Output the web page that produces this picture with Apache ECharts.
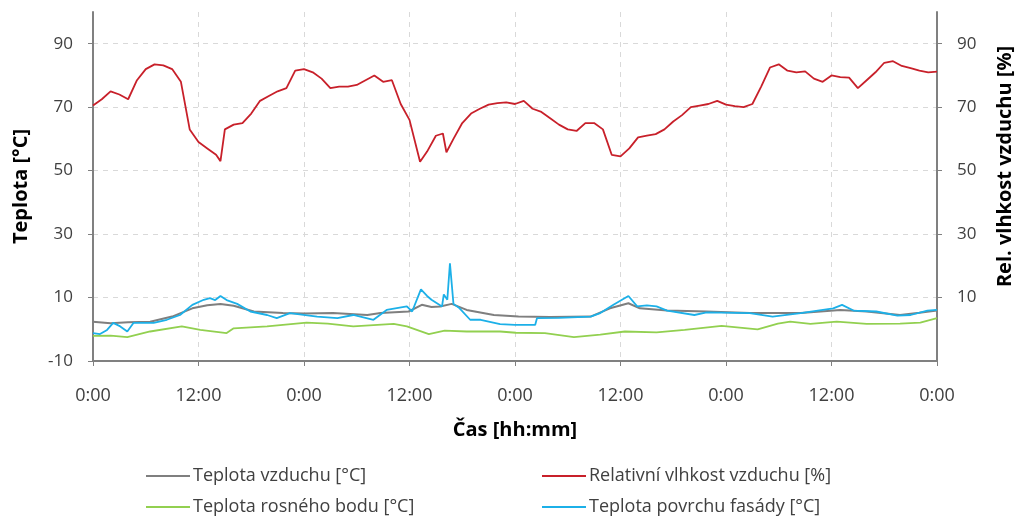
<!DOCTYPE html>
<html>
<head>
<meta charset="utf-8">
<script src="https://cdn.jsdelivr.net/npm/echarts@6/dist/echarts.min.js"></script>
<style>
  html, body { margin: 0; padding: 0; background: #fff; }
  #chart { width: 1032px; height: 517px; }
</style>
</head>
<body>
<div id="chart"></div>
<script>
// hodiny od zacatku mereni, hodnota
const airTemp = [
  [0, 2.4], [2, 1.9], [4, 2.2], [6.5, 2.4], [9, 4], [11.3, 6.6], [13, 7.6], [14.5, 8],
  [16, 7.4], [18.3, 5.6], [21.6, 5.1], [24, 5], [27.3, 5.1], [31.2, 4.5], [32.7, 5.1],
  [35.9, 5.6], [37.4, 7.7], [38.5, 7], [39.5, 7.2], [40.8, 8], [42.5, 6.1], [45.6, 4.5],
  [48.4, 4], [52, 3.9], [56.6, 4], [58.8, 6.6], [60.9, 8.2], [62.2, 6.6], [65.3, 5.9],
  [69.8, 5.6], [74.7, 5.1], [80.5, 5.1], [85, 6.1], [88, 5.6], [91.8, 4.5], [94, 5.2], [96, 5.9]
]

const relHumidity = [
  [0, 70.5], [1, 72.5], [2, 75], [3, 74], [4, 72.5], [5, 78.5], [6, 82], [7, 83.5], [8, 83.2],
  [9, 82], [10, 78], [11, 63], [12, 59], [13, 57], [14, 55], [14.5, 53], [15, 63], [16, 64.5],
  [17, 65], [18, 68], [19, 72], [20, 73.5], [21, 75], [22, 76], [23, 81.5], [24, 82], [25, 81],
  [26, 79], [27, 76], [28, 76.5], [29, 76.5], [30, 77], [31, 78.5], [32, 80], [33, 78], [34, 78.5],
  [35, 71], [36, 66], [37, 55], [37.2, 52.8], [38, 56], [39, 61], [39.8, 61.7], [40.2, 55.8],
  [41, 60], [42, 65], [43, 68], [44, 69.5], [45, 70.8], [46, 71.3], [47, 71.5], [48, 71], [49, 72],
  [50, 69.5], [51, 68.5], [52, 66.5], [53, 64.5], [54, 63], [55, 62.5], [56, 65], [57, 65], [58, 63],
  [59, 55], [60, 54.5], [61, 57], [62, 60.5], [63, 61], [64, 61.5], [65, 63], [66, 65.5], [67, 67.5],
  [68, 70], [69, 70.5], [70, 71], [71, 72], [72, 70.8], [73, 70.3], [74, 70], [75, 71], [76, 76.5],
  [77, 82.5], [78, 83.5], [79, 81.5], [80, 81], [81, 81.3], [82, 79], [83, 78], [84, 80], [85, 79.5],
  [86, 79.3], [87, 76], [88, 78.5], [89, 81], [90, 84], [91, 84.5], [92, 83], [93, 82.3], [94, 81.5],
  [95, 81], [96, 81.2]
]

const dewPoint = [
  [0, -2.1], [2, -2], [3.9, -2.5], [6.5, -0.7], [10.1, 0.9], [12.2, -0.2], [15.2, -1.2], [16, 0.3],
  [19.8, 0.9], [24.3, 2.1], [26.7, 1.8], [29.6, 0.9], [34.2, 1.7], [35.7, 0.9], [38.2, -1.5],
  [40, -0.4], [42.5, -0.7], [46.3, -0.7], [48.1, -1.1], [51.4, -1.2], [54.7, -2.5], [57.7, -1.7],
  [60.5, -0.7], [64.1, -1], [67.3, -0.2], [71.5, 1.1], [75.6, 0], [77.9, 1.8], [79.3, 2.4],
  [81.6, 1.7], [84.6, 2.4], [88, 1.7], [91.8, 1.8], [94.1, 2.1], [96, 3.5]
]

const surfaceTemp = [
  [0, -1.2], [0.8, -1.5], [1.6, -0.2], [2.3, 2], [3.1, 0.9], [3.9, -0.7], [4.6, 2], [6.9, 2],
  [8.4, 3], [9.9, 4.5], [11.3, 7.7], [12.6, 9.3], [13.3, 9.8], [13.9, 9.2], [14.5, 10.5], [15.2, 9.2],
  [16.4, 8], [17.9, 5.6], [19.8, 4.5], [20.9, 3.5], [22.4, 5.1], [25.5, 4], [27.8, 3.5], [29.6, 4.5],
  [31.9, 3], [33.4, 6.1], [35.7, 7.2], [36.3, 5.6], [37.3, 12.6], [38, 10.5], [38.5, 9.3], [39.7, 7.2],
  [39.9, 11], [40.3, 9.3], [40.6, 20.8], [40.8, 20.8], [41, 8], [41.7, 6.6], [42.9, 3], [44.1, 3],
  [46.3, 1.6], [48, 1.4], [50.3, 1.4], [50.5, 3.5], [53, 3.6], [56.6, 4], [57.7, 5.1], [59.2, 7.7],
  [60.9, 10.5], [61.9, 7.2], [63, 7.5], [64.1, 7.2], [65.3, 5.9], [68.4, 4.5], [69.8, 5.3], [74.7, 5.1],
  [77.3, 4], [80.5, 5.1], [84.2, 6.6], [85.2, 7.7], [86.5, 5.9], [89.1, 5.6], [91.5, 4.3], [93, 4.5],
  [94.9, 5.9], [96, 6.1]
]

const names = [
  'Teplota vzduchu [°C]',
  'Relativní vlhkost vzduchu [%]',
  'Teplota rosného bodu [°C]',
  'Teplota povrchu fasády [°C]'
]

const font = 'Open Sans'
const txt = '#404040'
const axisCol = '#808080'
const gridCol = '#d9d9d9'

const chart = echarts.init(document.getElementById('chart'))

const legendItem = (name, left, top) => ({
  data: [name], left, top,
  icon: 'rect', itemWidth: 44, itemHeight: 2, itemGap: 4,
  textStyle: { fontFamily: font, fontSize: 18, color: txt, padding: [0, 0, 0, -2] }
})

const titleStyle = { fontFamily: font, fontSize: 20, fontWeight: 'bold', color: '#000' }

const yCommon = {
  type: 'value', min: -10, max: 100, interval: 20,
  axisLine: { show: true, lineStyle: { color: axisCol, width: 2 } },
  axisTick: { show: true, length: 5, lineStyle: { color: axisCol } },
  nameLocation: 'middle',
  nameRotate: 90
}

chart.setOption({
  animation: false,
  grid: { left: 93, right: 95, top: 12, bottom: 156 },
  legend: [
    legendItem(names[0], 141, 462),
    legendItem(names[1], 537, 462),
    legendItem(names[2], 141, 493),
    legendItem(names[3], 537, 493)
  ],
  xAxis: {
    type: 'value', min: 0, max: 96, interval: 12,
    name: 'Čas [hh:mm]', nameLocation: 'middle', nameGap: 59,
    nameTextStyle: titleStyle,
    axisLine: { onZero: false, lineStyle: { color: axisCol, width: 2 } },
    axisTick: { length: 5, lineStyle: { color: axisCol } },
    axisLabel: {
      fontFamily: font, fontSize: 18, color: txt, margin: 26,
      formatter: v => (v % 24) + ':00'
    },
    splitLine: { show: true, lineStyle: { color: gridCol, type: [5, 5] } }
  },
  yAxis: [
    Object.assign({}, yCommon, {
      position: 'left',
      name: 'Teplota [°C]', nameGap: 62,
      nameTextStyle: titleStyle,
      axisLabel: { fontFamily: font, fontSize: 17, color: txt, margin: 20, showMaxLabel: false },
      splitLine: { show: true, showMaxLine: false, lineStyle: { color: gridCol, type: [5, 5] } }
    }),
    Object.assign({}, yCommon, {
      position: 'right',
      name: 'Rel. vlhkost vzduchu [%]', nameGap: 58,
      nameTextStyle: Object.assign({}, titleStyle, { padding: [0, 0, 0, 40] }),
      axisLabel: { fontFamily: font, fontSize: 17, color: txt, margin: 20, showMaxLabel: false, showMinLabel: false },
      splitLine: { show: false }
    })
  ],
  series: [
    { name: names[0], type: 'line', data: airTemp, showSymbol: false, color: '#7f7f7f', lineStyle: { width: 2 }, z: 3 },
    { name: names[1], type: 'line', yAxisIndex: 1, data: relHumidity, showSymbol: false, color: '#c8202a', lineStyle: { width: 1.8 } },
    { name: names[2], type: 'line', data: dewPoint, showSymbol: false, color: '#92d050', lineStyle: { width: 1.8 } },
    { name: names[3], type: 'line', data: surfaceTemp, showSymbol: false, color: '#1cb0e8', lineStyle: { width: 1.8 }, z: 4 }
  ]
})
</script>
</body>
</html>
